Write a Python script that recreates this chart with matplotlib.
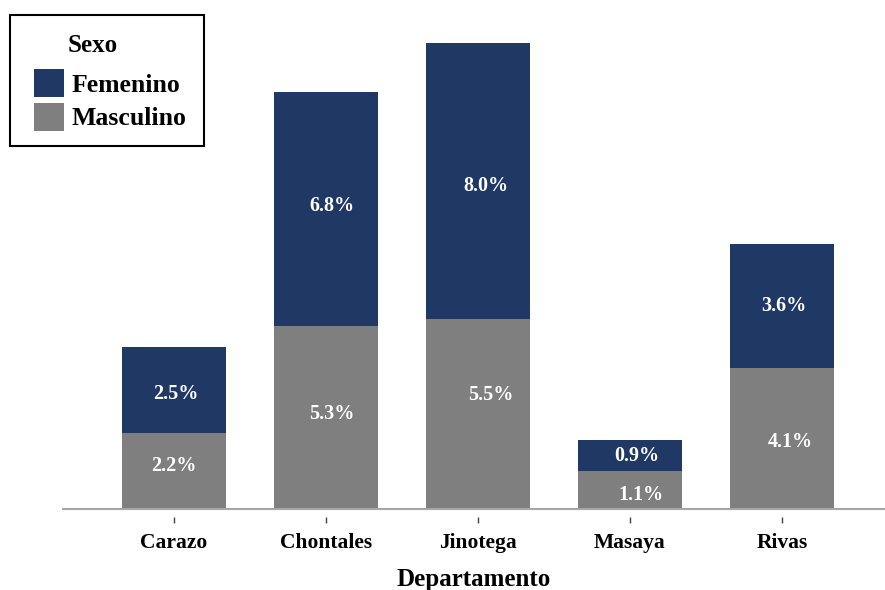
import matplotlib.pyplot as plt
import matplotlib.patches as mpatches
import numpy as np

# Porcentajes por departamento y sexo
departamentos = ['Carazo', 'Chontales', 'Jinotega', 'Masaya', 'Rivas']
masculino = [2.2, 5.3, 5.5, 1.1, 4.1]
femenino = [2.5, 6.8, 8.0, 0.9, 3.6]

azul = '#1F3864'
gris = '#7F7F7F'

plt.rcParams['font.family'] = ['Liberation Serif', 'DejaVu Serif']
plt.rcParams['font.weight'] = 'bold'

W, H = 885, 590
fig = plt.figure(figsize=(W / 100, H / 100), dpi=100)
ax = fig.add_axes([0.070, 0.1237, 0.930, 0.8763])

x = np.arange(len(departamentos))
ancho = 0.684
b_m = ax.bar(x, masculino, ancho, color=gris)
b_f = ax.bar(x, femenino, ancho, bottom=masculino, color=azul)

# Etiquetas dentro de cada segmento (ligeros desplazamientos en puntos)
ajuste_m = [(0, 4), (4, 2.5), (9, 13.5), (8, -3.5), (6, -2.5)]
ajuste_f = [(1, -3), (4, 2.5), (6, -3.5), (5, 0), (1, -0.5)]
for i in range(len(departamentos)):
    ax.annotate(f'{masculino[i]:.1f}%', (x[i], masculino[i] / 2),
                xytext=ajuste_m[i], textcoords='offset points',
                ha='center', va='center', color='white', fontsize=14.5,
                fontweight='bold')
    ax.annotate(f'{femenino[i]:.1f}%', (x[i], masculino[i] + femenino[i] / 2),
                xytext=ajuste_f[i], textcoords='offset points',
                ha='center', va='center', color='white', fontsize=14.5,
                fontweight='bold')

ax.axhline(0, color='#A6A6A6', linewidth=1.5, zorder=3)
ax.set_xlim(-0.737, 4.678)
ax.set_ylim(-0.23, 14.76)

for s in ax.spines.values():
    s.set_visible(False)
ax.set_yticks([])
ax.set_xticks(x)
ax.set_xticklabels(departamentos, fontsize=15.5, fontweight='bold')
ax.tick_params(axis='x', length=4, width=1, color='#404040', pad=7.5)
ax.set_xlabel('Departamento', fontsize=18, fontweight='bold', labelpad=11)

# Leyenda: marco, título y entradas por separado
fig.patches.append(mpatches.Rectangle((10 / W, 1 - 146 / H), 194 / W, 131 / H,
                                      transform=fig.transFigure, fill=False,
                                      edgecolor='black', linewidth=1.5))
fig.text(68 / W, 1 - 45 / H, 'Sexo', fontsize=18, fontweight='bold',
         ha='left', va='center')
handles = [mpatches.Patch(facecolor=azul, linewidth=0),
           mpatches.Patch(facecolor=gris, linewidth=0)]
fig.legend(handles, ['Femenino', 'Masculino'],
           loc='upper left', bbox_to_anchor=(34 / W, 1 - 69 / H),
           borderaxespad=0, borderpad=0, frameon=False, fontsize=18.5,
           handlelength=1.17, handleheight=1.3, handletextpad=0.3,
           labelspacing=0.22)

fig.savefig('out.png', dpi=100)
